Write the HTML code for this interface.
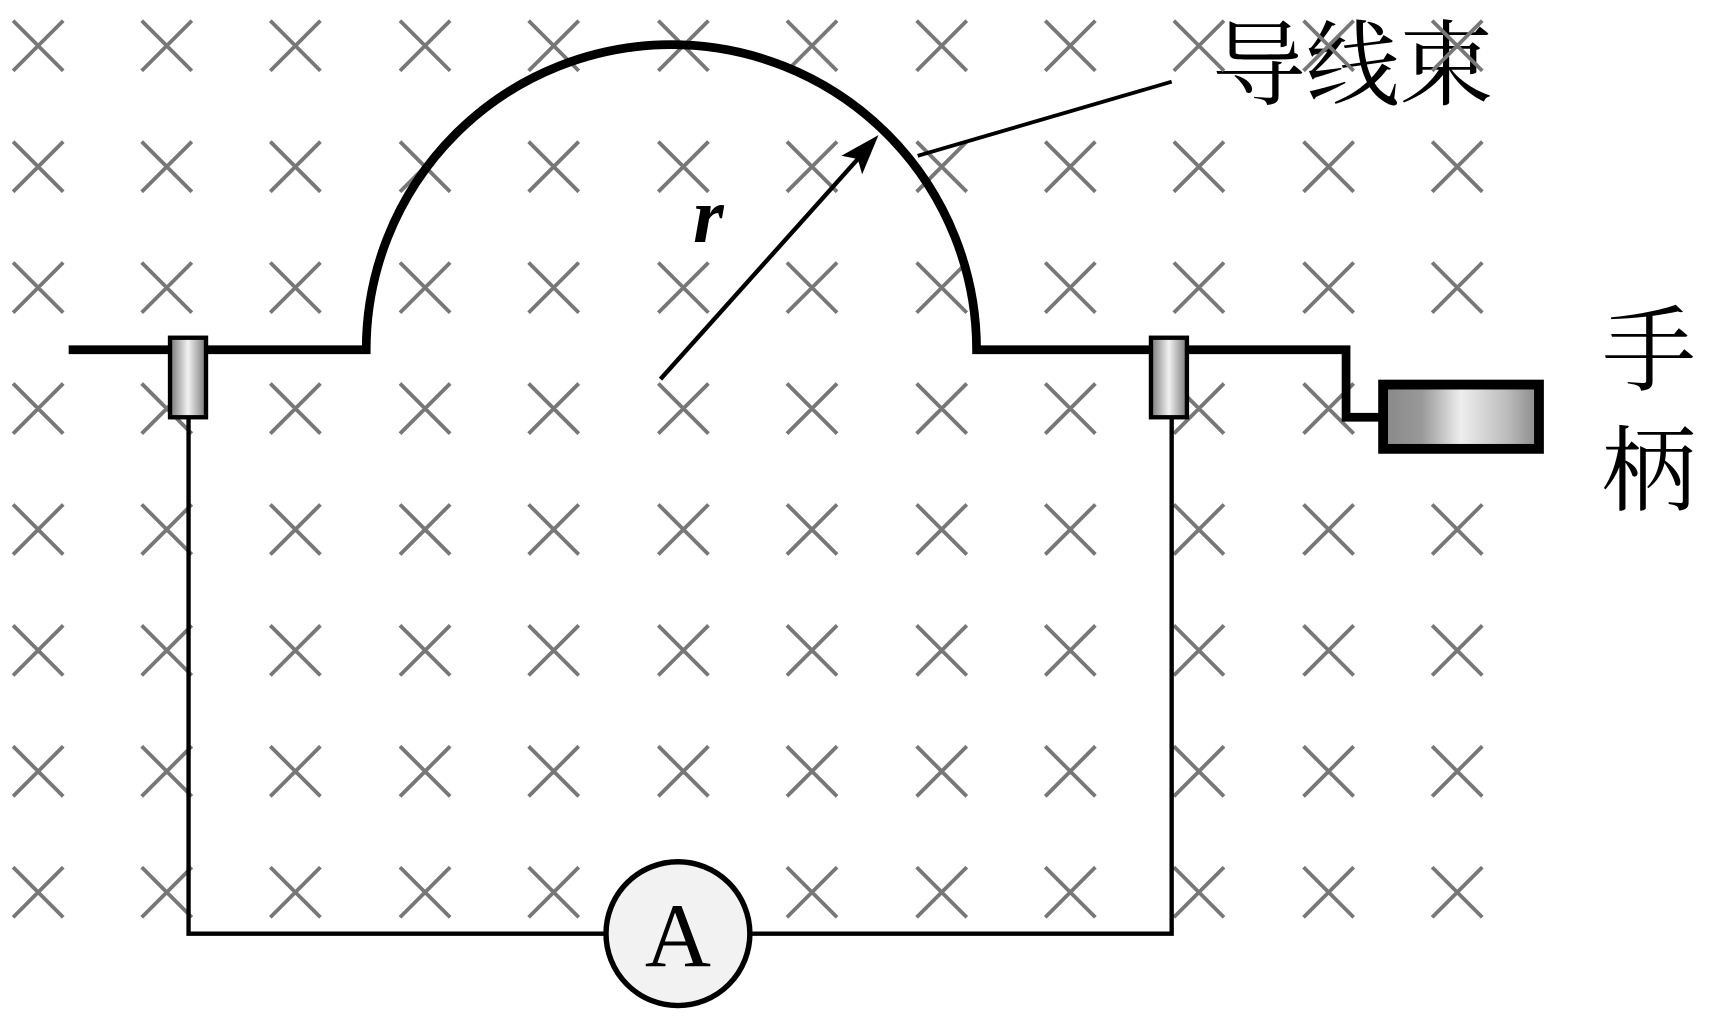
<!DOCTYPE html>
<html><head><meta charset="utf-8"><style>html,body{margin:0;padding:0;background:#fff}svg{display:block}</style></head>
<body>
<svg width="1709" height="1023" viewBox="0 0 1568 939" preserveAspectRatio="none" xmlns="http://www.w3.org/2000/svg">
<defs>
<linearGradient id="g" x1="0" x2="1" y1="0" y2="0">
<stop offset="0" stop-color="#777"/><stop offset="0.5" stop-color="#f2f2f2"/><stop offset="1" stop-color="#777"/>
</linearGradient>
<linearGradient id="h" x1="0" x2="1" y1="0" y2="0">
<stop offset="0" stop-color="#888"/><stop offset="0.25" stop-color="#999"/><stop offset="0.5" stop-color="#eee"/><stop offset="0.8" stop-color="#bbb"/><stop offset="1" stop-color="#888"/>
</linearGradient>
</defs>
<text x="1112" y="90" font-family="'Liberation Serif','Noto Serif CJK SC',serif" font-size="86">导线束</text>
<text x="1470" y="352" font-family="'Liberation Serif','Noto Serif CJK SC',serif" font-size="86">手</text>
<text x="1470" y="462" font-family="'Liberation Serif','Noto Serif CJK SC',serif" font-size="86">柄</text>
<path stroke="#777" stroke-width="3.5" fill="none" d="
M12,19 L58,65 M58,19 L12,65 M130,19 L176,65 M176,19 L130,65 M248,19 L294,65 M294,19 L248,65 M367,19 L413,65 M413,19 L367,65 M485,19 L531,65 M531,19 L485,65 M604,19 L650,65 M650,19 L604,65 M722,19 L768,65 M768,19 L722,65 M841,19 L887,65 M887,19 L841,65 M959,19 L1005,65 M1005,19 L959,65 M1077,19 L1123,65 M1123,19 L1077,65 M1196,19 L1242,65 M1242,19 L1196,65 M1314,19 L1360,65 M1360,19 L1314,65
M12,130 L58,176 M58,130 L12,176 M130,130 L176,176 M176,130 L130,176 M248,130 L294,176 M294,130 L248,176 M367,130 L413,176 M413,130 L367,176 M485,130 L531,176 M531,130 L485,176 M604,130 L650,176 M650,130 L604,176 M722,130 L768,176 M768,130 L722,176 M841,130 L887,176 M887,130 L841,176 M959,130 L1005,176 M1005,130 L959,176 M1077,130 L1123,176 M1123,130 L1077,176 M1196,130 L1242,176 M1242,130 L1196,176 M1314,130 L1360,176 M1360,130 L1314,176
M12,241 L58,287 M58,241 L12,287 M130,241 L176,287 M176,241 L130,287 M248,241 L294,287 M294,241 L248,287 M367,241 L413,287 M413,241 L367,287 M485,241 L531,287 M531,241 L485,287 M604,241 L650,287 M650,241 L604,287 M722,241 L768,287 M768,241 L722,287 M841,241 L887,287 M887,241 L841,287 M959,241 L1005,287 M1005,241 L959,287 M1077,241 L1123,287 M1123,241 L1077,287 M1196,241 L1242,287 M1242,241 L1196,287 M1314,241 L1360,287 M1360,241 L1314,287
M12,352 L58,398 M58,352 L12,398 M130,352 L176,398 M176,352 L130,398 M248,352 L294,398 M294,352 L248,398 M367,352 L413,398 M413,352 L367,398 M485,352 L531,398 M531,352 L485,398 M604,352 L650,398 M650,352 L604,398 M722,352 L768,398 M768,352 L722,398 M841,352 L887,398 M887,352 L841,398 M959,352 L1005,398 M1005,352 L959,398 M1077,352 L1123,398 M1123,352 L1077,398 M1196,352 L1242,398 M1242,352 L1196,398 M1314,352 L1360,398 M1360,352 L1314,398
M12,463 L58,509 M58,463 L12,509 M130,463 L176,509 M176,463 L130,509 M248,463 L294,509 M294,463 L248,509 M367,463 L413,509 M413,463 L367,509 M485,463 L531,509 M531,463 L485,509 M604,463 L650,509 M650,463 L604,509 M722,463 L768,509 M768,463 L722,509 M841,463 L887,509 M887,463 L841,509 M959,463 L1005,509 M1005,463 L959,509 M1077,463 L1123,509 M1123,463 L1077,509 M1196,463 L1242,509 M1242,463 L1196,509 M1314,463 L1360,509 M1360,463 L1314,509
M12,574 L58,620 M58,574 L12,620 M130,574 L176,620 M176,574 L130,620 M248,574 L294,620 M294,574 L248,620 M367,574 L413,620 M413,574 L367,620 M485,574 L531,620 M531,574 L485,620 M604,574 L650,620 M650,574 L604,620 M722,574 L768,620 M768,574 L722,620 M841,574 L887,620 M887,574 L841,620 M959,574 L1005,620 M1005,574 L959,620 M1077,574 L1123,620 M1123,574 L1077,620 M1196,574 L1242,620 M1242,574 L1196,620 M1314,574 L1360,620 M1360,574 L1314,620
M12,685 L58,731 M58,685 L12,731 M130,685 L176,731 M176,685 L130,731 M248,685 L294,731 M294,685 L248,731 M367,685 L413,731 M413,685 L367,731 M485,685 L531,731 M531,685 L485,731 M604,685 L650,731 M650,685 L604,731 M722,685 L768,731 M768,685 L722,731 M841,685 L887,731 M887,685 L841,731 M959,685 L1005,731 M1005,685 L959,731 M1077,685 L1123,731 M1123,685 L1077,731 M1196,685 L1242,731 M1242,685 L1196,731 M1314,685 L1360,731 M1360,685 L1314,731
M12,796 L58,842 M58,796 L12,842 M130,796 L176,842 M176,796 L130,842 M248,796 L294,842 M294,796 L248,842 M367,796 L413,842 M413,796 L367,842 M485,796 L531,842 M531,796 L485,842 M604,796 L650,842 M650,796 L604,842 M722,796 L768,842 M768,796 L722,842 M841,796 L887,842 M887,796 L841,842 M959,796 L1005,842 M1005,796 L959,842 M1077,796 L1123,842 M1123,796 L1077,842 M1196,796 L1242,842 M1242,796 L1196,842 M1314,796 L1360,842 M1360,796 L1314,842"/>
<g fill="none" stroke="#000">
<path d="M63,321 H336 A280,280 0 0 1 896,321 H1235 V383 H1268" stroke-width="8"/>
<path d="M173,383 V857 H1075 V383" stroke-width="4"/>
<line x1="606" y1="348" x2="787" y2="146" stroke-width="4"/>
<line x1="842" y1="143" x2="1075" y2="75" stroke-width="3.5"/>
</g>
<path d="M806,124 L791,160 L787,146 L772,143 Z" fill="#000"/>
<rect x="156" y="310" width="33" height="73" fill="url(#g)" stroke="#000" stroke-width="4"/>
<rect x="1056" y="310" width="33" height="73" fill="url(#g)" stroke="#000" stroke-width="4"/>
<rect x="1269" y="353" width="143" height="59" fill="url(#h)" stroke="#000" stroke-width="9"/>
<circle cx="622" cy="857" r="66" fill="#f2f2f2" stroke="#000" stroke-width="5"/>
<text x="622" y="887" text-anchor="middle" font-family="'Liberation Serif',serif" font-size="84">A</text>
<text x="636" y="222" font-family="'Liberation Serif',serif" font-style="italic" font-weight="bold" font-size="72">r</text>
</svg>
</body></html>
